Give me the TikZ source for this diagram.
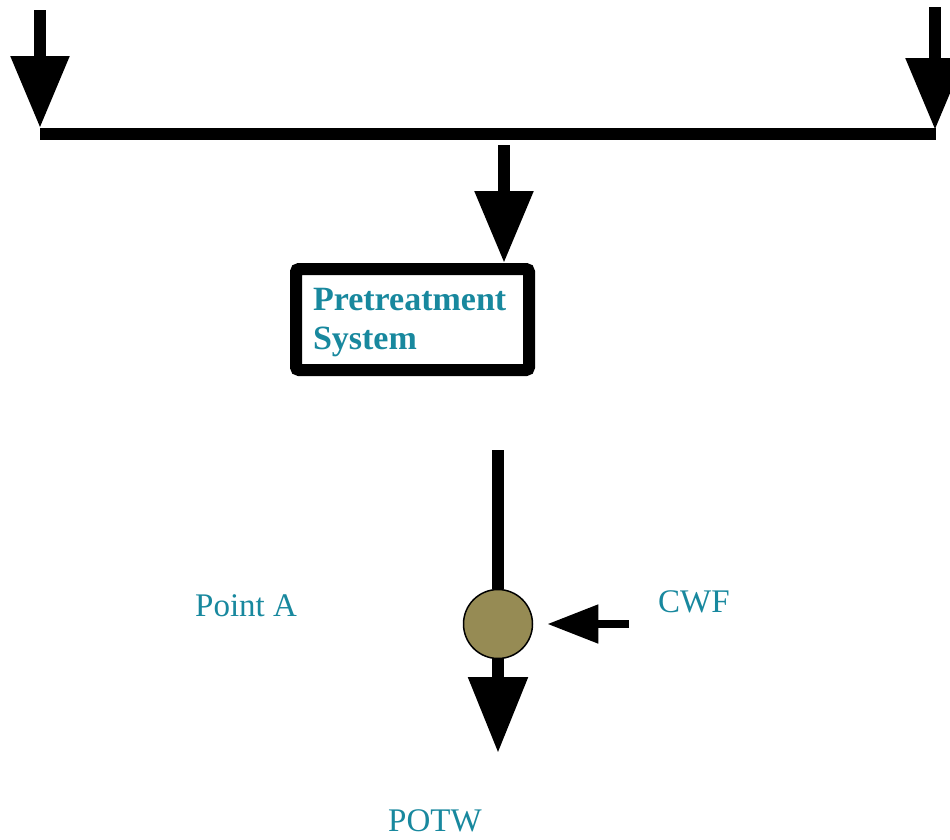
\documentclass[tikz,border=0pt]{standalone}
\usepackage{fontspec}
\setmainfont{Liberation Serif}
\usetikzlibrary{arrows.meta}
\definecolor{labelteal}{RGB}{24,136,158}
\definecolor{mixolive}{RGB}{150,139,84}
\begin{document}
\begin{tikzpicture}[x=1pt,y=-1pt,
  flow/.style={line width=12pt,-{Triangle[length=72pt,width=56pt]}},
  pipe/.style={line width=12pt},
  prebox/.style={draw,line width=12pt,rounded corners=3pt,minimum width=233pt,minimum height=101pt,
    inner xsep=17pt,text width=199pt,align=left,text=labelteal,font=\bfseries\fontsize{34}{39}\selectfont},
  mixer/.style={circle,draw,line width=1.5pt,fill=mixolive,minimum size=69pt,inner sep=0pt},
  tag/.style={text=labelteal,font=\fontsize{33}{39}\selectfont,anchor=base west,inner sep=0pt}]
\useasboundingbox (0,0) rectangle (950,839);
% feeds into the header
\coordinate (inL) at (40,10);
\coordinate (tipL) at (40,128);
\coordinate (inR) at (935,7);
\coordinate (tipR) at (935,130);
\coordinate (hdrL) at (40,134);
\coordinate (hdrR) at (936,134);
\draw[flow] (inL) -- (tipL);
\draw[flow] (inR) -- (tipR);
\draw[pipe] (hdrL) -- (hdrR);
% pretreatment
\node[prebox] (pre) at (412.5,319.5) {\rule{0pt}{29pt}Pretreatment\\System};
\coordinate (midtop) at (504,145);
\draw[flow] (midtop) -- (midtop |- pre.north);
% discharge and sampling point
\coordinate (outtop) at (498,450);
\coordinate (potw) at (498,753);
\coordinate (cwfin) at (629,624);
\node[mixer] (mix) at (498,624) {};
\draw[pipe] (outtop) -- (mix.north);
\draw[line width=12pt,-{Triangle[length=76pt,width=57pt]}] (mix.south) -- (potw);
\draw[line width=8pt,-{Triangle[length=51pt,width=37pt]},shorten >=14pt] (cwfin) -- (mix.east);
\node[tag] (pointA) at (195,616) {Point A};
\node[tag] (cwf) at (658,612) {CWF};
\node[tag] (potwlbl) at (388,831) {POTW};
\end{tikzpicture}
\end{document}
